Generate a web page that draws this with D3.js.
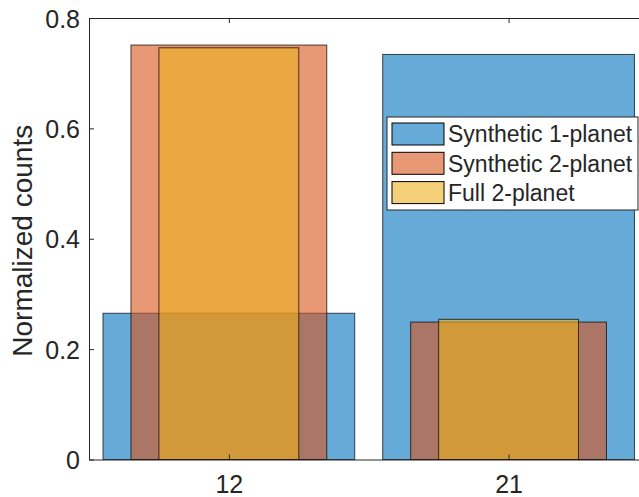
<!DOCTYPE html>
<html>
<head>
<meta charset="utf-8">
<script src="https://cdn.jsdelivr.net/npm/d3@7"></script>
<style>
  body { margin: 0; background: #fff; }
  text { font-family: "Liberation Sans", Arial, Helvetica, sans-serif; fill: #262626; }
</style>
</head>
<body>
<div id="chart"></div>
<script>
// period ratio categories and normalized counts
const categories = [12, 21];
const synthetic1 = [0.265, 0.734];
const synthetic2 = [0.751, 0.249];
const full2 = [0.746, 0.254];
const yTicks = [0, 0.2, 0.4, 0.6, 0.8];
const seriesNames = ["Synthetic 1-planet", "Synthetic 2-planet", "Full 2-planet"];

const series = [
    { name: seriesNames[0], values: synthetic1, color: "rgb(0,114,189)", frac: 0.9 },
    { name: seriesNames[1], values: synthetic2, color: "rgb(217,83,25)", frac: 0.7 },
    { name: seriesNames[2], values: full2, color: "rgb(237,177,32)", frac: 0.5 }
];

const W = 639, H = 497;
const svg = d3.select("#chart").append("svg")
    .attr("width", W)
    .attr("height", H);

const plotLeft = 89, plotTop = 18, plotBottom = 459.5;
const step = categories[1] - categories[0];

const x = d3.scaleLinear()
    .domain([categories[0] - step / 2, categories[1] + step / 2])
    .range([plotLeft, plotLeft + 18 * 31.08]);

const y = d3.scaleLinear()
    .domain([0, 0.8])
    .range([plotBottom, plotTop]);

const g = svg.append("g");

// bars, drawn in series order so later ones sit on top
series.forEach(s => {
    g.selectAll(null)
        .data(categories)
        .enter().append("rect")
        .attr("x", (c) => x(c - s.frac * step / 2))
        .attr("width", x(s.frac * step) - x(0))
        .attr("y", (c, i) => y(s.values[i]))
        .attr("height", (c, i) => y(0) - y(s.values[i]))
        .attr("fill", s.color)
        .attr("fill-opacity", 0.6)
        .attr("stroke", "#000")
        .attr("stroke-opacity", 0.7)
        .attr("stroke-width", 1);
});

// axes (MATLAB style, ticks inside, box on)
const axisColor = "#262626";
const xAxis = svg.append("g")
    .attr("transform", `translate(0,${plotBottom})`)
    .call(d3.axisBottom(x).tickValues(categories).tickSizeInner(-5).tickSizeOuter(0).tickPadding(16));
const xTop = svg.append("g")
    .attr("transform", `translate(0,${plotTop})`)
    .call(d3.axisTop(x).tickValues(categories).tickSizeInner(-5).tickSizeOuter(0).tickFormat(""));
const yAxis = svg.append("g")
    .attr("transform", `translate(${plotLeft},0)`)
    .call(d3.axisLeft(y).tickValues(yTicks).tickSizeInner(-5).tickSizeOuter(0).tickPadding(9)
        .tickFormat(d => d === 0 ? "0" : d3.format(".1f")(d)));

[xAxis, xTop, yAxis].forEach(a => {
    a.select(".domain").attr("stroke", axisColor).attr("stroke-width", 1);
    a.selectAll(".tick line").attr("stroke", axisColor);
    a.selectAll(".tick text")
        .attr("font-size", 25)
        .attr("fill", axisColor)
        .attr("font-family", "Liberation Sans, Arial, sans-serif");
});
yAxis.selectAll(".tick text").attr("dy", "0.36em");

// y label
svg.append("text")
    .attr("transform", `translate(32,${(plotTop + plotBottom) / 2 + 2}) rotate(-90)`)
    .attr("text-anchor", "middle")
    .attr("font-size", 28)
    .text("Normalized counts");

// legend
const lg = svg.append("g").attr("transform", "translate(387,117)");
lg.append("rect")
    .attr("width", 251)
    .attr("height", 93)
    .attr("fill", "#fff")
    .attr("stroke", axisColor)
    .attr("stroke-width", 1);

const item = lg.selectAll(".item")
    .data(series)
    .enter().append("g")
    .attr("class", "item")
    .attr("transform", (d, i) => `translate(5,${6 + i * 29.3})`);

item.append("rect")
    .attr("width", 52)
    .attr("height", 22)
    .attr("fill", d => d.color)
    .attr("fill-opacity", 0.6)
    .attr("stroke", "#000")
    .attr("stroke-width", 1);

item.append("text")
    .attr("x", 56)
    .attr("y", 11)
    .attr("dy", "0.36em")
    .attr("font-size", 23)
    .attr("fill", "#000")
    .text(d => d.name);
</script>
</body>
</html>
